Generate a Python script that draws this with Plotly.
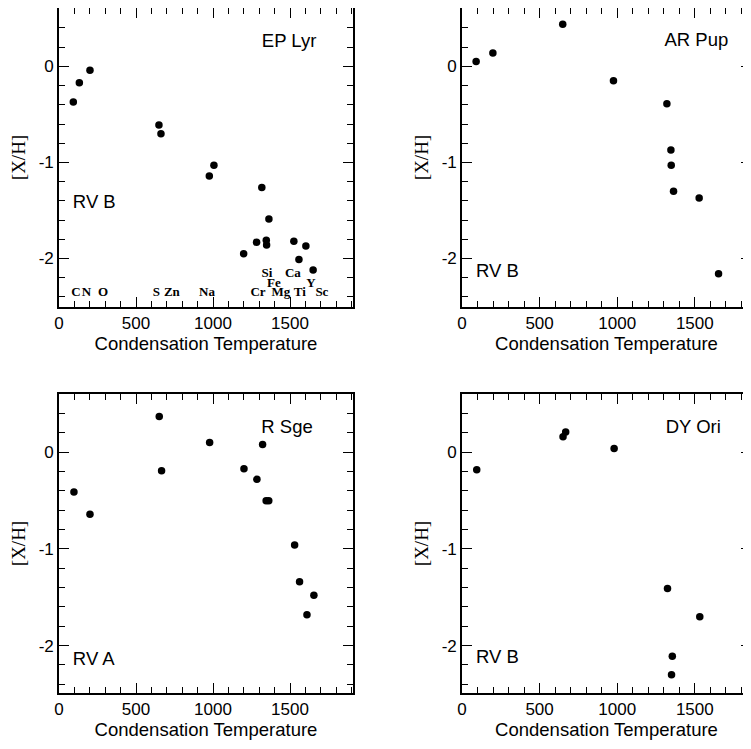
import plotly.graph_objects as go

# ---------------- data ----------------
ep_lyr_t = [93, 132, 201, 649, 662, 976, 1006, 1317, 1363, 1199, 1283, 1346, 1348, 1525, 1603, 1558, 1650]
ep_lyr_xh = [-0.37, -0.17, -0.04, -0.61, -0.70, -1.14, -1.03, -1.26, -1.59, -1.95, -1.83, -1.81, -1.86, -1.82, -1.87, -2.01, -2.12]

ar_pup_t = [91, 199, 649, 976, 1320, 1346, 1348, 1363, 1528, 1653]
ar_pup_xh = [0.05, 0.14, 0.44, -0.15, -0.39, -0.87, -1.03, -1.30, -1.37, -2.16]

r_sge_t = [97, 201, 651, 666, 978, 1201, 1285, 1322, 1345, 1362, 1530, 1562, 1610, 1655]
r_sge_xh = [-0.41, -0.64, 0.37, -0.19, 0.10, -0.17, -0.28, 0.08, -0.50, -0.50, -0.96, -1.34, -1.68, -1.48]

dy_ori_t = [95, 651, 668, 980, 1324, 1532, 1355, 1350]
dy_ori_xh = [-0.18, 0.16, 0.21, 0.04, -1.41, -1.70, -2.11, -2.30]

star_names = ["EP Lyr", "AR Pup", "R Sge", "DY Ori"]
group_names = ["RV B", "RV B", "RV A", "RV B"]

# element labels in EP Lyr panel
elem_names = ["C", "N", "O", "S", "Zn", "Na", "Cr", "Mg", "Ti", "Sc", "Si", "Fe", "Ca", "Y"]
elem_t = [110, 178, 286, 632, 733, 961, 1292, 1441, 1564, 1707, 1350, 1395, 1519, 1636]
elem_xh = [-2.36, -2.36, -2.36, -2.36, -2.36, -2.36, -2.36, -2.36, -2.36, -2.36, -2.16, -2.26, -2.16, -2.26]

x_tickvals = [0, 500, 1000, 1500]
x_ticktext = ["0", "500", "1000", "1500"]
y_tickvals = [-2, -1, 0]
y_ticktext = ["-2", "-1", "0"]

# ---------------- layout (screen pixels; page body has an 8px margin) ----------------
OX, OY = 8, 8
FW, FH = 751 - OX, 749 - OY
def fx(p): return (p - OX) / FW
def fy(p): return 1 - (p - OY) / FH

panels = [
    ((59, 353), (5, 307), [0, 1909], [-2.505, 0.608]),
    ((462, 751), (5, 307), [0, 1862], [-2.505, 0.608]),
    ((59, 353), (394, 693), [0, 1909], [-2.49, 0.603]),
    ((462, 751), (394, 693), [0, 1862], [-2.49, 0.603]),
]
name_pos = [(1494, 0.25), (1510, 0.26), (1481, 0.25), (1490, 0.25)]
group_pos = [(90, -1.43), (90, -2.14), (90, -2.15), (90, -2.13)]
series = [(ep_lyr_t, ep_lyr_xh), (ar_pup_t, ar_pup_xh), (r_sge_t, r_sge_xh), (dy_ori_t, dy_ori_xh)]

SANS = "Liberation Sans, Arial, sans-serif"
SERIF = "Liberation Serif, Times New Roman, serif"

fig = go.Figure()
layout = dict(template="none", width=FW, height=FH, margin=dict(l=0, r=0, t=0, b=0), showlegend=False)

for i, ((x0, x1), (yt, yb), xr, yr) in enumerate(panels):
    n = "" if i == 0 else str(i + 1)
    t, v = series[i]
    fig.add_trace(go.Scatter(x=t, y=v, mode="markers", xaxis="x" + n, yaxis="y" + n,
                             marker=dict(size=7.5, color="black")))
    fig.add_trace(go.Scatter(x=[name_pos[i][0]], y=[name_pos[i][1]], mode="text", text=[star_names[i]],
                             textposition="middle center", xaxis="x" + n, yaxis="y" + n,
                             textfont=dict(family=SANS, size=18.5, color="black")))
    fig.add_trace(go.Scatter(x=[group_pos[i][0]], y=[group_pos[i][1]], mode="text", text=[group_names[i]],
                             textposition="middle right", xaxis="x" + n, yaxis="y" + n,
                             textfont=dict(family=SANS, size=18.5, color="black")))
    common = dict(showgrid=False, zeroline=False, showline=True, linecolor="black", linewidth=1.6,
                  mirror="allticks", ticks="inside", tickcolor="black", tickwidth=1.4, ticklen=10,
                  tickfont=dict(family=SANS, size=17, color="black"))
    layout["xaxis" + n] = dict(common, domain=[max(fx(x0), 0), min(fx(x1), 1.0)], range=xr, anchor="y" + n,
                               tickmode="array", tickvals=x_tickvals, ticktext=x_ticktext,
                               title=dict(text="Condensation Temperature", standoff=3,
                                          font=dict(family=SANS, size=18.5, color="black")),
                               minor=dict(dtick=100, tick0=0, ticks="inside", ticklen=6, tickwidth=1.4,
                                          tickcolor="black", showgrid=False))
    layout["yaxis" + n] = dict(common, domain=[fy(yb), min(fy(yt), 1.0)], range=yr, anchor="x" + n,
                               tickmode="array", tickvals=y_tickvals, ticktext=y_ticktext,
                               title=dict(text="[X/H]", standoff=8,
                                          font=dict(family=SERIF, size=19, color="black")),
                               minor=dict(dtick=0.2, tick0=0, ticks="inside", ticklen=6, tickwidth=1.4,
                                          tickcolor="black", showgrid=False))

fig.add_trace(go.Scatter(x=elem_t, y=elem_xh, mode="text", text=elem_names, textposition="middle center",
                         xaxis="x", yaxis="y",
                         textfont=dict(family=SERIF, size=13, color="black", weight="bold")))

fig.update_layout(**layout)
fig.write_html("out.html")
